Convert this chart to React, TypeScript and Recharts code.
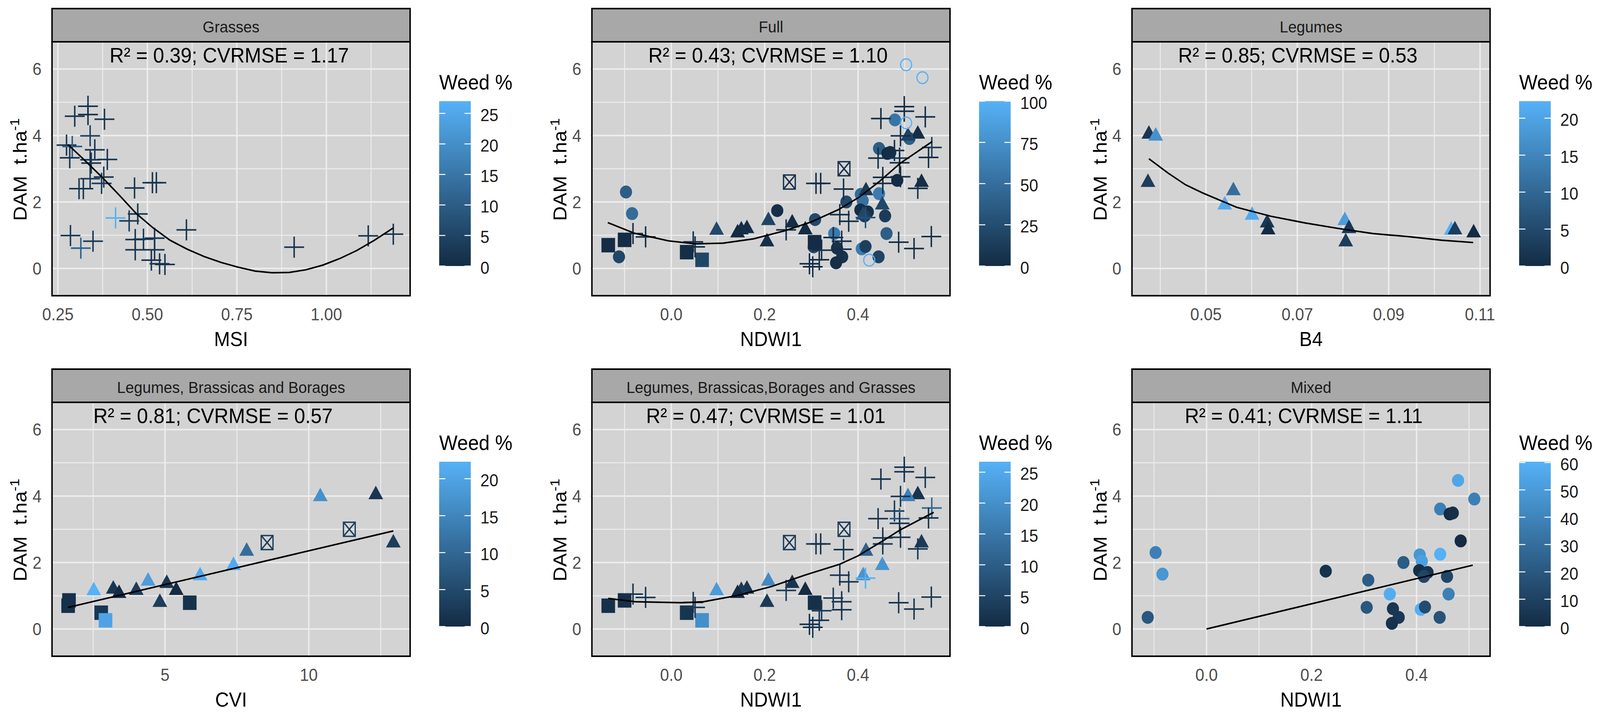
import React, { useLayoutEffect, useState } from 'react';
import { ScatterChart, Scatter, XAxis, YAxis, CartesianGrid } from 'recharts';

const FONT = '"Liberation Sans", Arial, Helvetica, sans-serif';
const W = 4352, H = 1833;
const COLS = [141.5, 1610, 3079];   // left edge of each panel
const ROWS = [107, 1030];           // top edge of each plot area (below strip)
const PW = 974, PH = 650, STRIP = 85, YW = 141, XH = 140, RPAD = 60;
const PANEL_BG = '#D3D3D3';
const GRID = '#EDEDED';
const LOW = [19, 43, 67];     // #132B43
const HIGH = [86, 177, 247];  // #56B1F7

// ---- shared y axis
const yDomain = [-0.82, 6.82];
const yTicks = [0, 2, 4, 6];
const yMinor = [1, 3, 5];

// ---- Legumes (triangles): NDWI1, CVI, B4, DAM, weed %
const legNdwi = [0.528, 0.507, 0.536, 0.417, 0.452, 0.411, 0.208, 0.259, 0.287, 0.162, 0.097, 0.150, 0.142, 0.205];
const legCvi = [12.33, 10.40, 12.94, 7.84, 7.38, 6.22, 4.41, 5.06, 5.39, 3.20, 2.52, 4.00, 3.40, 4.82];
const legB4 = [0.0375, 0.0390, 0.0373, 0.0560, 0.0541, 0.0601, 0.0804, 0.0634, 0.0636, 0.0813, 0.1037, 0.1045, 0.1086, 0.0806];
const legDam = [4.04, 3.98, 2.59, 2.34, 1.91, 1.60, 1.44, 1.37, 1.16, 1.20, 1.15, 1.16, 1.07, 0.80];
const legWeed = [2, 17, 3, 11, 21, 21, 19, 2, 0, 2, 22.3, 3, 0, 3];

// ---- Brassicas (filled squares)
const brasNdwi = [-0.135, -0.100, 0.033, 0.066, 0.307];
const brasCvi = [1.63, 1.66, 2.78, 2.93, 5.86];
const brasDam = [0.70, 0.86, 0.49, 0.26, 0.79];
const brasWeed = [1, 1, 2, 20, 1];

// ---- Borages (boxed X)
const borNdwi = [0.253, 0.370];
const borCvi = [8.55, 11.41];
const borDam = [2.60, 3.00];
const borWeed = [3, 3];

// ---- Grasses (plus) against NDWI1
const grassNdwi = [-0.082, -0.055, 0.047, 0.051, 0.246, 0.310, 0.320, 0.369, 0.296, 0.303, 0.317, 0.322, 0.347, 0.365, 0.365, 0.361, 0.380, 0.416, 0.443, 0.449, 0.453, 0.453, 0.478, 0.489, 0.489, 0.491, 0.491, 0.499, 0.499, 0.544, 0.558, 0.551, 0.528, 0.487, 0.520, 0.557];
const grassNdwiDam = [1.05, 0.95, 0.80, 0.65, 1.16, 2.56, 2.56, 2.39, 0.14, 0.05, 0.26, 0.55, 0.93, 0.82, 0.58, 1.62, 1.42, 1.53, 3.32, 4.51, 2.74, 2.56, 3.55, 3.32, 3.18, 2.76, 3.99, 4.87, 4.73, 4.56, 3.64, 3.34, 2.41, 0.79, 0.60, 0.96];
const grassNdwiWeed = [2, 2, 2, 3, 3, 2, 1, 2, 1, 2, 2, 3, 3, 2, 2, 2, 2, 27, 2, 1, 2, 2, 3, 10, 2, 2, 2, 2, 2, 2, 12, 2, 2, 2, 2, 2];

// ---- Grasses (plus) against MSI
const grassMsi = [0.334, 0.334, 0.297, 0.380, 0.340, 0.274, 0.290, 0.353, 0.283, 0.340, 0.343, 0.388, 0.378, 0.372, 0.340, 0.309, 0.321, 0.464, 0.514, 0.525, 0.411, 0.473, 0.449, 0.609, 0.285, 0.348, 0.314, 0.466, 0.466, 0.489, 0.520, 0.520, 0.511, 0.534, 0.549, 0.910, 1.117, 1.187];
const grassMsiDam = [4.88, 4.63, 4.58, 4.49, 3.99, 3.71, 3.67, 3.57, 3.33, 3.27, 3.17, 3.28, 2.75, 2.56, 2.70, 2.40, 2.40, 2.42, 2.58, 2.58, 1.52, 1.64, 1.43, 1.16, 0.99, 0.82, 0.61, 0.87, 0.56, 0.88, 0.91, 0.56, 0.25, 0.14, 0.12, 0.64, 0.98, 1.03];
const grassMsiWeed = [2, 1, 2, 2, 4, 2, 10, 2, 2, 3, 2, 2, 2, 3, 3, 2, 2, 2, 2, 2, 27, 2, 3, 2, 3, 3, 11, 2, 2, 2, 2, 2, 2, 2, 2, 2, 2, 2];

// ---- Mixed (filled circles)
const mixNdwi = [-0.112, -0.097, -0.084, 0.227, 0.308, 0.305, 0.349, 0.355, 0.366, 0.353, 0.375, 0.406, 0.410, 0.405, 0.421, 0.414, 0.408, 0.416, 0.444, 0.445, 0.445, 0.463, 0.469, 0.479, 0.458, 0.461, 0.484, 0.510];
const mixDam = [0.35, 2.30, 1.65, 1.74, 1.47, 0.65, 1.05, 0.61, 0.35, 0.17, 2.00, 2.23, 2.04, 1.76, 1.70, 1.58, 0.59, 0.66, 0.35, 2.25, 3.61, 3.46, 3.49, 4.47, 1.58, 1.05, 2.65, 3.91];
const mixWeed = [20, 38, 48, 3, 22, 20, 58, 5, 6, 3, 22, 48, 52, 2, 4, 12, 60, 15, 18, 60, 38, 0, 2, 55, 12, 38, 0, 38];

// ---- weed-only plots (open circles, Full panel)
const weedNdwi = [0.503, 0.538, 0.503, 0.424];
const weedDam = [6.13, 5.74, 4.38, 0.25];
const weedPct = [100, 100, 100, 100];

// ---- fitted curves
const fitMsiX = [0.278, 0.326, 0.373, 0.421, 0.468, 0.516, 0.563, 0.611, 0.658, 0.706, 0.753, 0.801, 0.848, 0.896, 0.943, 0.990, 1.038, 1.085, 1.133, 1.187];
const fitMsiY = [3.73, 3.24, 2.75, 2.21, 1.66, 1.22, 0.85, 0.58, 0.36, 0.18, 0.04, -0.08, -0.13, -0.12, -0.04, 0.10, 0.30, 0.54, 0.84, 1.22];
const fitFullX = [-0.136, -0.079, -0.006, 0.052, 0.111, 0.176, 0.242, 0.300, 0.358, 0.402, 0.446, 0.490, 0.559];
const fitFullY = [1.38, 1.06, 0.83, 0.74, 0.76, 0.89, 1.13, 1.40, 1.77, 2.14, 2.62, 3.16, 3.82];
const fitLegX = [0.0375, 0.0418, 0.0455, 0.0493, 0.0567, 0.0642, 0.0717, 0.0791, 0.0866, 0.0941, 0.1016, 0.1085];
const fitLegY = [3.30, 2.86, 2.52, 2.27, 1.84, 1.57, 1.37, 1.20, 1.05, 0.96, 0.85, 0.78];
const fitLbbX = [1.63, 12.94];
const fitLbbY = [0.65, 2.95];
const fitLbbgX = [-0.135, -0.077, 0.022, 0.069, 0.142, 0.215, 0.288, 0.361, 0.400, 0.453, 0.489, 0.562];
const fitLbbgY = [0.92, 0.82, 0.79, 0.82, 1.01, 1.28, 1.63, 1.95, 2.20, 2.65, 2.97, 3.51];
const fitMixX = [0.0, 0.507];
const fitMixY = [0.0, 1.92];

function weedColor(w: number, max: number) {
  const t = Math.max(0, Math.min(1, w / max));
  const c = LOW.map((l, i) => Math.round(l + (HIGH[i] - l) * t));
  return `rgb(${c[0]},${c[1]},${c[2]})`;
}

const pts = (xs: number[], ys: number[], ws: number[]) => xs.map((x, i) => ({ x, y: ys[i], w: ws[i] }));
const path = (xs: number[], ys: number[]) => xs.map((x, i) => ({ x, y: ys[i] }));

function makeShape(kind: string, max: number) {
  return (p: any) => {
    const { cx, cy, payload } = p;
    if (cx == null || cy == null) return <g />;
    const c = weedColor(payload.w, max);
    if (kind === 'plus') {
      return (
        <g stroke={c} strokeWidth={4}>
          <line x1={cx - 27} x2={cx + 27} y1={cy} y2={cy} />
          <line x1={cx} x2={cx} y1={cy - 27} y2={cy + 27} />
        </g>
      );
    }
    if (kind === 'tri') {
      return <polygon points={`${cx},${cy - 23} ${cx + 20},${cy + 11.5} ${cx - 20},${cy + 11.5}`} fill={c} />;
    }
    if (kind === 'sq') return <rect x={cx - 18.5} y={cy - 18.5} width={37} height={37} fill={c} />;
    if (kind === 'sqx') {
      return (
        <g stroke={c} strokeWidth={3.5} fill="none">
          <rect x={cx - 16} y={cy - 18} width={32} height={36} />
          <line x1={cx - 16} y1={cy - 18} x2={cx + 16} y2={cy + 18} />
          <line x1={cx + 16} y1={cy - 18} x2={cx - 16} y2={cy + 18} />
        </g>
      );
    }
    if (kind === 'ring') return <circle cx={cx} cy={cy} r={15} fill="none" stroke={c} strokeWidth={3.2} />;
    return <circle cx={cx} cy={cy} r={16.5} fill={c} />;
  };
}

const noDot = () => <g />;

const ndwiDomain = [-0.170, 0.597];
const ndwiTicks = [0, 0.2, 0.4];
const ndwiMinor = [-0.1, 0.1, 0.3, 0.5];

const panels = [
  {
    title: 'Grasses', xLabel: 'MSI', stat: 'R² = 0.39; CVRMSE = 1.17', statX: 482, col: 0, row: 0,
    xDomain: [0.234, 1.2345], xTicks: [0.25, 0.5, 0.75, 1.0], xMinor: [0.375, 0.625, 0.875, 1.125], dec: 2,
    wMax: 27, wTicks: [0, 5, 10, 15, 20, 25],
    layers: [{ kind: 'plus', data: pts(grassMsi, grassMsiDam, grassMsiWeed) }],
    fit: path(fitMsiX, fitMsiY),
  },
  {
    title: 'Full', xLabel: 'NDWI1', stat: 'R² = 0.43; CVRMSE = 1.10', statX: 479, col: 1, row: 0,
    xDomain: ndwiDomain, xTicks: ndwiTicks, xMinor: ndwiMinor, dec: 1,
    wMax: 100, wTicks: [0, 25, 50, 75, 100],
    layers: [
      { kind: 'dot', data: pts(mixNdwi, mixDam, mixWeed) },
      { kind: 'tri', data: pts(legNdwi, legDam, legWeed) },
      { kind: 'sq', data: pts(brasNdwi, brasDam, brasWeed) },
      { kind: 'sqx', data: pts(borNdwi, borDam, borWeed) },
      { kind: 'plus', data: pts(grassNdwi, grassNdwiDam, grassNdwiWeed) },
      { kind: 'ring', data: pts(weedNdwi, weedDam, weedPct) },
    ],
    fit: path(fitFullX, fitFullY),
  },
  {
    title: 'Legumes', xLabel: 'B4', stat: 'R² = 0.85; CVRMSE = 0.53', statX: 451, col: 2, row: 0,
    xDomain: [0.0338, 0.1122], xTicks: [0.05, 0.07, 0.09, 0.11], xMinor: [0.04, 0.06, 0.08, 0.10], dec: 2,
    wMax: 22.3, wTicks: [0, 5, 10, 15, 20],
    layers: [{ kind: 'tri', data: pts(legB4, legDam, legWeed) }],
    fit: path(fitLegX, fitLegY),
  },
  {
    title: 'Legumes, Brassicas and Borages', xLabel: 'CVI', stat: 'R² = 0.81; CVRMSE = 0.57', statX: 438, col: 0, row: 1,
    xDomain: [1.076, 13.53], xTicks: [5, 10], xMinor: [2.5, 7.5, 12.5], dec: 0,
    wMax: 22.3, wTicks: [0, 5, 10, 15, 20],
    layers: [
      { kind: 'tri', data: pts(legCvi, legDam, legWeed) },
      { kind: 'sq', data: pts(brasCvi, brasDam, brasWeed) },
      { kind: 'sqx', data: pts(borCvi, borDam, borWeed) },
    ],
    fit: path(fitLbbX, fitLbbY),
  },
  {
    title: 'Legumes, Brassicas,Borages and Grasses', xLabel: 'NDWI1', stat: 'R² = 0.47; CVRMSE = 1.01', statX: 473, col: 1, row: 1,
    xDomain: ndwiDomain, xTicks: ndwiTicks, xMinor: ndwiMinor, dec: 1,
    wMax: 26.7, wTicks: [0, 5, 10, 15, 20, 25],
    layers: [
      { kind: 'tri', data: pts(legNdwi, legDam, legWeed) },
      { kind: 'sq', data: pts(brasNdwi, brasDam, brasWeed) },
      { kind: 'sqx', data: pts(borNdwi, borDam, borWeed) },
      { kind: 'plus', data: pts(grassNdwi, grassNdwiDam, grassNdwiWeed) },
    ],
    fit: path(fitLbbgX, fitLbbgY),
  },
  {
    title: 'Mixed', xLabel: 'NDWI1', stat: 'R² = 0.41; CVRMSE = 1.11', statX: 467, col: 2, row: 1,
    xDomain: [-0.142, 0.540], xTicks: ndwiTicks, xMinor: ndwiMinor, dec: 1,
    wMax: 60.3, wTicks: [0, 10, 20, 30, 40, 50, 60],
    layers: [{ kind: 'dot', data: pts(mixNdwi, mixDam, mixWeed) }],
    fit: path(fitMixX, fitMixY),
  },
];

function Panel({ p }: { p: any }) {
  const left = COLS[p.col] - YW;
  const top = ROWS[p.row];
  const tickStyle = { fill: '#4D4D4D', fontSize: 44, fontFamily: FONT };
  return (
    <div style={{ position: 'absolute', left, top }}>
      <ScatterChart width={YW + PW + RPAD} height={PH + XH} margin={{ top: 0, right: RPAD, bottom: 0, left: 0 }}>
        <CartesianGrid fill={PANEL_BG} fillOpacity={1} stroke={GRID} strokeWidth={4}
          horizontalValues={yTicks} verticalValues={p.xTicks} />
        <CartesianGrid stroke={GRID} strokeWidth={2.5}
          horizontalValues={yMinor} verticalValues={p.xMinor} />
        <XAxis type="number" dataKey="x" domain={p.xDomain} allowDataOverflow ticks={p.xTicks} interval={0}
          tickFormatter={(v: number) => v.toFixed(p.dec)} height={XH} axisLine={false}
          tickSize={5} tickMargin={27} tickLine={{ stroke: '#E6E6E6', strokeWidth: 3 }} tick={tickStyle} />
        <YAxis type="number" dataKey="y" domain={yDomain} allowDataOverflow ticks={yTicks} interval={0}
          tickFormatter={(v: number) => String(v)} width={YW} axisLine={false}
          tickSize={5} tickMargin={24} tickLine={{ stroke: '#E6E6E6', strokeWidth: 3 }} tick={tickStyle} />
        {p.layers.map((l: any, i: number) => (
          <Scatter key={i} data={l.data} shape={makeShape(l.kind, p.wMax)} isAnimationActive={false} />
        ))}
        <Scatter data={p.fit} line={{ stroke: '#000', strokeWidth: 4 }} shape={noDot} isAnimationActive={false} />
      </ScatterChart>
    </div>
  );
}

function Overlay() {
  return (
    <svg width={W} height={H} style={{ position: 'absolute', left: 0, top: 0, pointerEvents: 'none' }} fontFamily={FONT}>
      <defs>
        {panels.map((p, i) => (
          <linearGradient key={i} id={`wg${i}`} x1="0" y1="1" x2="0" y2="0">
            {[0, 0.25, 0.5, 0.75, 1].map((t) => (
              <stop key={t} offset={t} stopColor={weedColor(t * p.wMax, p.wMax)} />
            ))}
          </linearGradient>
        ))}
      </defs>
      {panels.map((p, i) => {
        const x0 = COLS[p.col];
        const y0 = ROWS[p.row];
        const bx = x0 + PW + 79;
        const barTop = y0 + 152, barBot = y0 + 574, barW = 86;
        return (
          <g key={i}>
            <rect x={x0} y={y0 - STRIP} width={PW} height={STRIP} fill="#A8A8A8" stroke="#000" strokeWidth={4} />
            <text x={x0 + PW / 2} y={y0 - STRIP + 61} textAnchor="middle" fontSize={41.5} fill="#1A1A1A">{p.title}</text>
            <rect x={x0} y={y0} width={PW} height={PH} fill="none" stroke="#000" strokeWidth={4} />
            <text x={x0 + p.statX} y={y0 + 53} textAnchor="middle" fontSize={54} fill="#000">{p.stat}</text>
            <text x={x0 + PW / 2} y={y0 + PH + 129} textAnchor="middle" fontSize={52} fill="#000">{p.xLabel}</text>
            <text transform={`rotate(-90 ${x0 - 69} ${y0 + 327})`} x={x0 - 69} y={y0 + 327} textAnchor="middle"
              fontSize={52} fill="#000" xmlSpace="preserve" style={{ whiteSpace: 'pre' }}>
              DAM  t.ha<tspan dy={-20} fontSize={36}>-1</tspan>
            </text>
            <text x={bx} y={y0 + 122} fontSize={53} fill="#000">Weed %</text>
            <rect x={bx} y={barTop} width={barW} height={barBot - barTop} fill={`url(#wg${i})`} />
            {p.wTicks.map((v: number) => {
              const yy = barBot - (v / p.wMax) * (barBot - barTop);
              return (
                <g key={v}>
                  <line x1={bx} x2={bx + 17} y1={yy} y2={yy} stroke="#fff" strokeWidth={2.5} />
                  <line x1={bx + barW - 17} x2={bx + barW} y1={yy} y2={yy} stroke="#fff" strokeWidth={2.5} />
                  <text x={bx + barW + 26} y={yy + 4} dy="0.355em" fontSize={44} fill="#1A1A1A">{v}</text>
                </g>
              );
            })}
          </g>
        );
      })}
    </svg>
  );
}

export default function App() {
  // the figure is laid out at 4352x1833; fit it into whatever viewport is photographed
  const [sc, setSc] = useState([1, 1]);
  useLayoutEffect(() => {
    const fit = () => setSc([Math.min(1, window.innerWidth / W), Math.min(1, window.innerHeight / H)]);
    fit();
    window.addEventListener('resize', fit);
    return () => window.removeEventListener('resize', fit);
  }, []);
  return (
    <div style={{ position: 'fixed', left: 0, top: 0, width: '100vw', height: '100vh', overflow: 'hidden', background: '#fff' }}>
      <div style={{ position: 'absolute', left: 0, top: 0, width: W, height: H, transform: `scale(${sc[0]}, ${sc[1]})`, transformOrigin: '0 0' }}>
        {panels.map((p, i) => <Panel key={i} p={p} />)}
        <Overlay />
      </div>
    </div>
  );
}
